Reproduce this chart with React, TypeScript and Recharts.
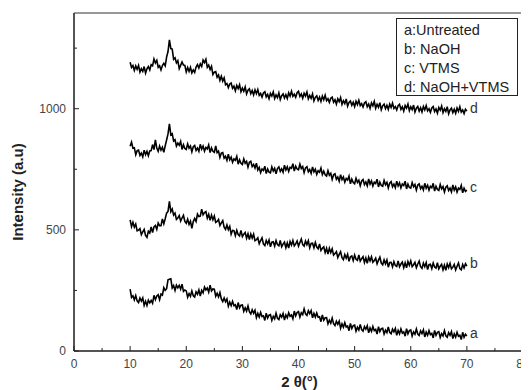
import React from 'react';
import { LineChart, Line, XAxis, YAxis, ReferenceArea, ReferenceLine, Label } from 'recharts';

// 2θ sampling grid (degrees), 10 → 70 in 0.25° steps
const twoTheta: number[] = Array.from({ length: 241 }, (_, i) => 10 + i * 0.25);

// a: Untreated
const seriesA = [
  255, 221, 228, 211, 229, 207, 200, 219, 206, 219, 188, 205, 188, 210, 199, 209,
  197, 230, 212, 227, 232, 212, 235, 231, 261, 250, 257, 294, 296, 298, 260, 270,
  250, 272, 261, 271, 255, 276, 246, 252, 248, 222, 237, 226, 248, 228, 223, 244,
  234, 252, 227, 250, 240, 264, 252, 260, 243, 272, 248, 256, 255, 226, 238, 223,
  241, 215, 204, 219, 203, 215, 185, 202, 187, 205, 187, 191, 171, 200, 178, 189,
  190, 164, 178, 165, 186, 162, 153, 170, 156, 168, 138, 155, 140, 159, 142, 145,
  126, 156, 136, 148, 150, 126, 143, 133, 156, 135, 130, 150, 140, 155, 128, 149,
  137, 158, 143, 149, 133, 165, 145, 159, 163, 140, 158, 150, 174, 153, 147, 166,
  154, 167, 137, 155, 140, 157, 139, 141, 121, 149, 127, 137, 138, 112, 127, 115,
  136, 113, 105, 123, 110, 123, 94, 112, 98, 117, 99, 103, 84, 114, 93, 105,
  107, 82, 98, 87, 110, 88, 82, 101, 90, 104, 75, 95, 81, 101, 84, 89,
  70, 100, 80, 92, 94, 70, 86, 76, 99, 77, 71, 90, 79, 93, 65, 85,
  71, 91, 74, 79, 61, 92, 71, 84, 87, 62, 79, 69, 91, 70, 64, 83,
  72, 87, 58, 78, 65, 84, 68, 73, 54, 85, 65, 77, 80, 56, 72, 62,
  84, 63, 57, 76, 65, 80, 51, 71, 57, 77, 61, 65, 47, 77, 57, 69,
  62,
];

// b: NaOH
const seriesB = [
  541, 513, 531, 511, 524, 496, 499, 505, 480, 492, 502, 477, 469, 494, 487, 512,
  489, 512, 518, 502, 528, 517, 517, 545, 525, 546, 569, 576, 618, 575, 586, 561,
  569, 543, 549, 559, 536, 549, 560, 535, 527, 544, 523, 536, 506, 534, 547, 535,
  565, 555, 557, 585, 562, 571, 575, 548, 564, 539, 561, 542, 557, 531, 535, 543,
  518, 529, 538, 511, 502, 520, 501, 514, 482, 498, 497, 476, 498, 481, 475, 498,
  472, 482, 489, 465, 484, 460, 483, 466, 482, 455, 459, 467, 443, 456, 467, 442,
  435, 456, 442, 458, 430, 449, 451, 433, 456, 439, 434, 456, 430, 441, 449, 426,
  446, 425, 452, 437, 456, 434, 442, 454, 433, 448, 462, 439, 433, 454, 439, 455,
  426, 444, 445, 426, 448, 429, 422, 442, 415, 424, 430, 406, 424, 400, 424, 406,
  422, 396, 402, 410, 386, 399, 410, 385, 377, 398, 383, 399, 370, 389, 392, 373,
  396, 379, 374, 396, 371, 381, 389, 365, 384, 362, 388, 372, 389, 366, 373, 383,
  360, 375, 387, 363, 356, 376, 360, 376, 346, 365, 366, 347, 369, 353, 349, 372,
  348, 359, 367, 344, 364, 343, 369, 354, 372, 348, 356, 366, 344, 359, 371, 348,
  341, 363, 348, 365, 336, 356, 358, 340, 363, 347, 342, 364, 339, 350, 358, 335,
  354, 333, 359, 344, 362, 339, 346, 357, 335, 350, 363, 340, 335, 357, 343, 360,
  350,
];

// c: VTMS
const seriesC = [
  845, 862, 837, 839, 810, 827, 829, 807, 817, 801, 829, 810, 824, 806, 826, 827,
  852, 831, 871, 838, 824, 846, 829, 841, 820, 847, 871, 896, 937, 892, 897, 867,
  872, 846, 858, 849, 865, 832, 851, 836, 832, 855, 837, 846, 822, 843, 848, 828,
  838, 824, 853, 833, 846, 825, 840, 834, 851, 819, 838, 824, 820, 846, 819, 825,
  799, 817, 819, 796, 804, 787, 812, 789, 800, 779, 793, 787, 803, 771, 789, 775,
  770, 793, 775, 783, 759, 779, 783, 761, 770, 755, 775, 747, 758, 736, 751, 745,
  763, 732, 751, 738, 735, 760, 743, 754, 731, 753, 760, 741, 752, 738, 767, 747,
  760, 741, 758, 754, 773, 743, 763, 751, 748, 771, 753, 761, 736, 756, 761, 740,
  749, 733, 760, 739, 750, 729, 744, 738, 755, 728, 742, 727, 722, 744, 725, 733,
  708, 727, 731, 709, 718, 701, 728, 707, 718, 697, 712, 706, 722, 690, 709, 695,
  690, 713, 696, 705, 682, 702, 708, 687, 698, 682, 710, 689, 702, 681, 697, 691,
  709, 677, 697, 683, 680, 704, 686, 696, 673, 693, 699, 678, 689, 674, 701, 681,
  694, 673, 689, 683, 701, 669, 689, 675, 672, 695, 678, 687, 664, 685, 690, 670,
  680, 665, 692, 672, 684, 664, 680, 674, 692, 660, 680, 667, 663, 687, 669, 679,
  656, 676, 682, 662, 672, 657, 685, 664, 677, 656, 672, 667, 684, 653, 672, 659,
  664,
];

// d: NaOH+VTMS
const seriesD = [
  1192, 1170, 1178, 1158, 1177, 1163, 1179, 1151, 1165, 1154, 1174, 1147, 1165, 1174, 1160, 1182,
  1177, 1205, 1189, 1200, 1171, 1177, 1160, 1178, 1187, 1177, 1213, 1236, 1284, 1248, 1246, 1204,
  1210, 1189, 1198, 1165, 1179, 1193, 1180, 1179, 1152, 1170, 1154, 1171, 1148, 1160, 1150, 1172,
  1182, 1168, 1185, 1174, 1201, 1190, 1204, 1171, 1180, 1162, 1175, 1141, 1151, 1153, 1130, 1139,
  1117, 1134, 1114, 1127, 1099, 1104, 1087, 1102, 1106, 1084, 1093, 1074, 1096, 1083, 1099, 1070,
  1085, 1072, 1090, 1061, 1076, 1082, 1062, 1075, 1057, 1078, 1062, 1079, 1055, 1063, 1048, 1065,
  1070, 1049, 1059, 1041, 1063, 1052, 1069, 1042, 1057, 1046, 1065, 1038, 1054, 1061, 1044, 1058,
  1042, 1066, 1052, 1072, 1051, 1060, 1047, 1066, 1072, 1051, 1061, 1043, 1064, 1052, 1069, 1041,
  1055, 1043, 1061, 1032, 1047, 1053, 1034, 1048, 1030, 1052, 1037, 1056, 1033, 1041, 1026, 1043,
  1048, 1027, 1037, 1019, 1041, 1029, 1046, 1018, 1033, 1021, 1040, 1011, 1026, 1032, 1014, 1027,
  1009, 1031, 1017, 1035, 1013, 1021, 1007, 1024, 1029, 1008, 1019, 1001, 1024, 1012, 1030, 1002,
  1018, 1006, 1025, 996, 1012, 1019, 1000, 1014, 997, 1019, 1005, 1023, 1001, 1009, 995, 1012,
  1018, 997, 1008, 990, 1013, 1002, 1019, 992, 1008, 996, 1015, 986, 1002, 1009, 990, 1004,
  987, 1009, 995, 1013, 991, 1000, 985, 1003, 1009, 988, 999, 982, 1005, 994, 1011, 984,
  1000, 989, 1008, 979, 995, 1002, 984, 998, 981, 1003, 989, 1008, 986, 995, 980, 998,
  990,
];

const seriesKeys = ['a', 'b', 'c', 'd'];
const legendLabels = ['a:Untreated', 'b: NaOH', 'c: VTMS', 'd: NaOH+VTMS'];
const xTicks = [0, 5, 10, 15, 20, 25, 30, 35, 40, 45, 50, 55, 60, 65, 70, 75, 80];
const yTicks = [0, 250, 500, 750, 1000, 1250];
const xMajorStep = 10;
const yMajorStep = 500;
const xDomain = [0, 80];
const yDomain = [0, 1395];

const data = twoTheta.map((t, i) => ({
  t,
  a: seriesA[i],
  b: seriesB[i],
  c: seriesC[i],
  d: seriesD[i],
}));

const FONT = '"Liberation Sans", Arial, sans-serif';
const LAST = data.length - 1;

const XTick = (props: any) => {
  const { x, y, payload } = props;
  const v = payload.value;
  const major = v % xMajorStep === 0;
  return (
    <g>
      <line x1={x} y1={y} x2={x} y2={y - (major ? 5 : 3)} stroke="#222" strokeWidth={1} />
      {major && (
        <text x={x} y={y + 17} textAnchor="middle" fontSize={12} fill="#444" fontFamily={FONT}>
          {v}
        </text>
      )}
    </g>
  );
};

const YTick = (props: any) => {
  const { x, y, payload } = props;
  const v = payload.value;
  const major = v % yMajorStep === 0;
  return (
    <g>
      <line x1={x} y1={y} x2={x + (major ? 5 : 3)} y2={y} stroke="#222" strokeWidth={1} />
      {major && (
        <text x={x - 8} y={y + 4.3} textAnchor="end" fontSize={12} fill="#444" fontFamily={FONT}>
          {v}
        </text>
      )}
    </g>
  );
};

const endLabel = (name: string) => (p: any) => {
  if (p.index !== LAST) return null;
  return (
    <text x={p.x + 3} y={p.y + 2} fontSize={14} fill="#333" fontFamily={FONT}>
      {name}
    </text>
  );
};

export default function App() {
  return (
    <div style={{ position: 'relative', width: 521, height: 382 }}>
      <LineChart
        width={521}
        height={382}
        data={data}
        margin={{ top: 5, right: 6, bottom: 0, left: 0 }}
      >
        <XAxis
          dataKey="t"
          type="number"
          domain={xDomain}
          ticks={xTicks}
          interval={0}
          tickSize={0}
          tickMargin={0}
          tickLine={false}
          axisLine={{ stroke: '#111', strokeWidth: 1 }}
          tick={<XTick />}
          height={39}
          allowDataOverflow
        >
          <Label
            content={(p: any) => {
              const vb = p.viewBox;
              const cx = vb.x + vb.width / 2 + 1;
              const cy = vb.y + 30;
              return (
                <text x={cx} y={cy} textAnchor="middle" dominantBaseline="central" fontSize={15} fontWeight="bold" fill="#222" fontFamily={FONT}>
                  2 θ(°)
                </text>
              );
            }}
          />
        </XAxis>
        <YAxis
          type="number"
          domain={yDomain}
          ticks={yTicks}
          interval={0}
          tickSize={0}
          tickMargin={0}
          tickLine={false}
          axisLine={{ stroke: '#111', strokeWidth: 1 }}
          tick={<YTick />}
          width={66}
          allowDataOverflow
        >
          <Label
            content={(p: any) => {
              const vb = p.viewBox;
              const cx = vb.x + 9;
              const cy = vb.y + vb.height / 2 + 10;
              return (
                <text
                  x={cx}
                  y={cy}
                  transform={`rotate(-90 ${cx} ${cy})`}
                  textAnchor="middle"
                  dominantBaseline="central"
                  fontSize={15}
                  fontWeight="bold"
                  fill="#222"
                  fontFamily={FONT}
                >
                  Intensity (a.u)
                </text>
              );
            }}
          />
        </YAxis>
        <ReferenceArea x1={xDomain[0]} x2={xDomain[1]} y1={yDomain[0]} y2={yDomain[1]} fill="none" stroke="#333" strokeWidth={1} />
        <ReferenceLine x={xDomain[1]} stroke="#777" strokeWidth={2} />
        {seriesKeys.map((k) => (
          <Line
            key={k}
            dataKey={k}
            stroke="#000"
            strokeWidth={1.6}
            dot={false}
            isAnimationActive={false}
            label={endLabel(k)}
          />
        ))}
      </LineChart>
      <div
        style={{
          position: 'absolute',
          left: 388,
          top: 9.5,
          width: 120,
          height: 76,
          border: '1px solid #222',
          background: '#fff',
          boxSizing: 'content-box',
          fontFamily: FONT,
          fontSize: 14.5,
          lineHeight: '19px',
          color: '#222',
        }}
      >
        <div style={{ paddingLeft: 7, paddingTop: 2.5 }}>
          {legendLabels.map((l) => (
            <div key={l} style={{ whiteSpace: 'nowrap' }}>{l}</div>
          ))}
        </div>
      </div>
    </div>
  );
}
